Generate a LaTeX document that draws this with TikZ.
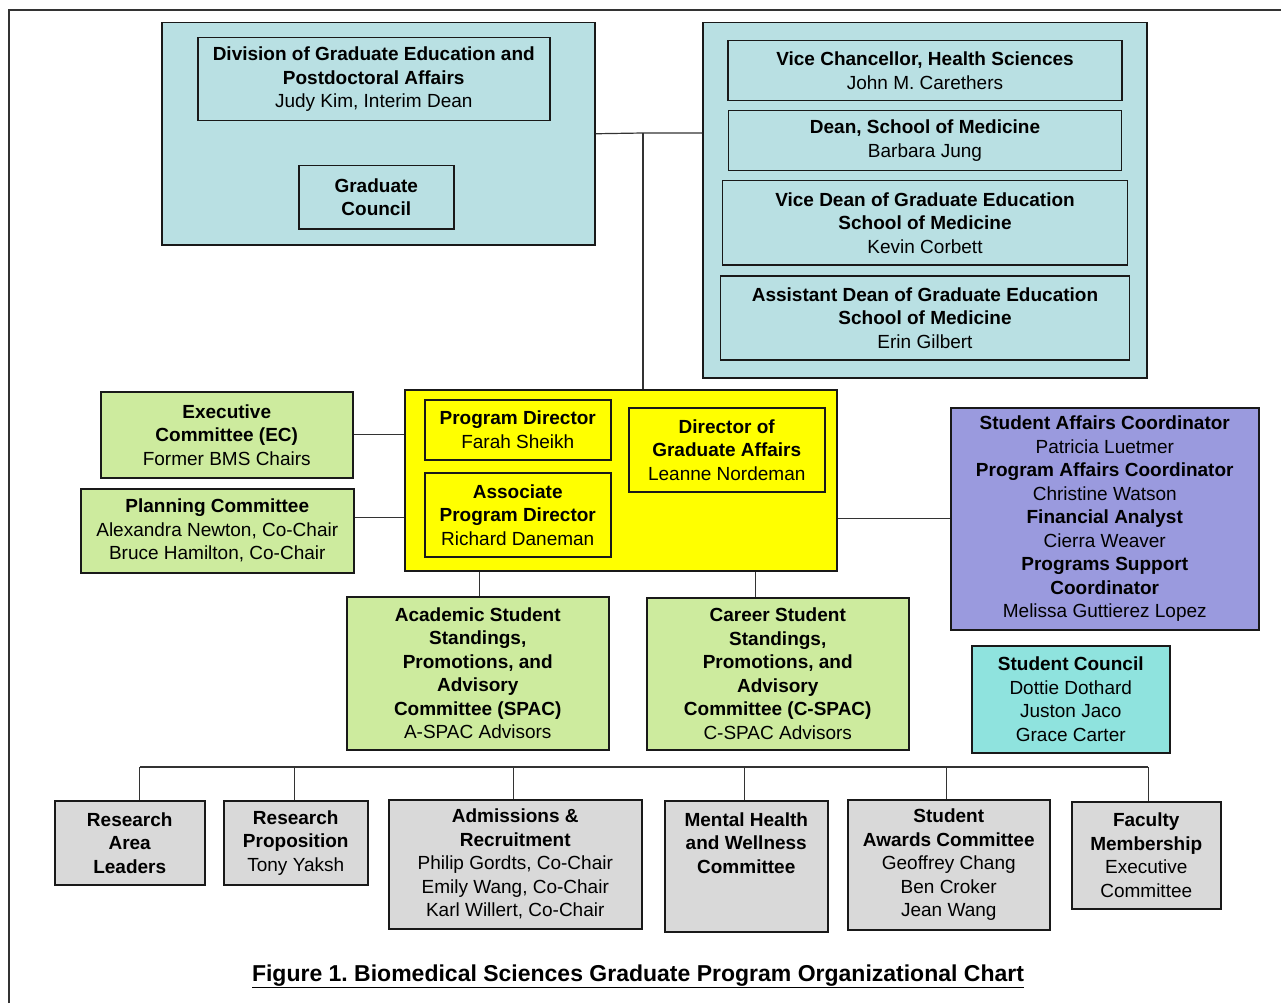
\documentclass[tikz,border=0pt]{standalone}
\usepackage{fontspec}
\setmainfont{Liberation Sans}
\usepackage{tikz}
\usetikzlibrary{positioning}
\definecolor{paleblue}{RGB}{185,224,227}
\definecolor{palegreen}{RGB}{205,235,158}
\definecolor{lavender}{RGB}{154,154,222}
\definecolor{aqua}{RGB}{143,227,222}
\definecolor{boxgray}{RGB}{217,217,217}
\definecolor{brightyellow}{RGB}{255,255,0}
\frenchspacing

\begin{document}
\begin{tikzpicture}[x=1pt,y=-1pt,
    box/.style={draw=black!90,line width=1.5pt,align=center,inner sep=2pt,
        font=\fontsize{19}{23.5}\selectfont},
    sz/.style 2 args={minimum width=#1pt,minimum height=#2pt},
    link/.style={draw=black!80,line width=1.2pt}]
            \useasboundingbox (0,0) rectangle (1281,1003);
            \draw[line width=1.3pt,black!80] (9,1003) -- (9,10) -- (1281,10);

            \node[box,fill=paleblue,anchor=north west,sz={433}{222}] (Div) at (161,22) {};
            \node[box,anchor=north west,sz={352}{83}] (DGE) at (197,37)
                {\textbf{Division of Graduate Education and}\\\textbf{Postdoctoral Affairs}\\Judy Kim, Interim Dean};
            \node[box,anchor=north west,sz={155}{63}] (GC) at (298,165) {\textbf{Graduate}\\\textbf{Council}};

            \node[box,fill=paleblue,anchor=north west,sz={444}{355}] (HS) at (702,22) {};
            \node[box,anchor=north,sz={394}{60}] (VC) at (925,40)
                {\textbf{Vice Chancellor, Health Sciences}\\John M. Carethers};
            \node[box,sz={393}{60}] (SOM) [below=8.5pt of VC] {\textbf{Dean, School of Medicine}\\Barbara Jung};
            \node[box,sz={405}{84}] (VD) [below=8.5pt of SOM]
                {\textbf{Vice Dean of Graduate Education}\\\textbf{School of Medicine}\\Kevin Corbett};
            \node[box,sz={409}{84}] (AD) [below=9.5pt of VD]
                {\textbf{Assistant Dean of Graduate Education}\\\textbf{School of Medicine}\\Erin Gilbert};

            \node[box,fill=brightyellow,anchor=north west,sz={432}{181}] (BMS) at (404,389) {};
            \node[box,anchor=north west,sz={186}{60}] (PD) at (424,399) {\textbf{Program Director}\\Farah Sheikh};
            \node[box,sz={186}{84}] (APD) [below=11.5pt of PD]
                {\textbf{Associate}\\\textbf{Program Director}\\Richard Daneman};
            \node[box,anchor=north west,sz={196}{84}] (DGA) at (628,407)
                {\textbf{Director of}\\\textbf{Graduate Affairs}\\Leanne Nordeman};

            \node[box,fill=palegreen,anchor=north west,sz={252}{86}] (EC) at (100,391)
                {\textbf{Executive}\\\textbf{Committee (EC)}\\Former BMS Chairs};
            \node[box,fill=palegreen,anchor=north west,sz={273}{84}] (PC) at (80,488)
                {\textbf{Planning Committee}\\Alexandra Newton, Co-Chair\\Bruce Hamilton, Co-Chair};

            \node[box,fill=lavender,anchor=north west,sz={308}{222}] (Staff) at (950,407)
                {\textbf{Student Affairs Coordinator}\\Patricia Luetmer\\\textbf{Program Affairs Coordinator}\\
                 Christine Watson\\\textbf{Financial Analyst}\\Cierra Weaver\\\textbf{Programs Support}\\
                 \textbf{Coordinator}\\Melissa Guttierez Lopez};
            \node[box,fill=aqua,anchor=north west,sz={198}{107}] (SC) at (971,645)
                {\textbf{Student Council}\\Dottie Dothard\\Juston Jaco\\Grace Carter};

            \node[box,fill=palegreen,anchor=north west,sz={262}{153}] (ASPAC) at (346,596)
                {\textbf{Academic Student}\\\textbf{Standings,}\\\textbf{Promotions, and}\\\textbf{Advisory}\\
                 \textbf{Committee (SPAC)}\\A-SPAC Advisors};
            \node[box,fill=palegreen,anchor=north west,sz={262}{152}] (CSPAC) at (646,597)
                {\textbf{Career Student}\\\textbf{Standings,}\\\textbf{Promotions, and}\\\textbf{Advisory}\\
                 \textbf{Committee (C-SPAC)}\\C-SPAC Advisors};

            \node[box,fill=boxgray,anchor=north west,sz={150}{84}] (RAL) at (54,800)
                {\textbf{Research}\\\textbf{Area}\\\textbf{Leaders}};
            \node[box,fill=boxgray,anchor=north west,sz={144}{84}] (RP) at (223,800)
                {\textbf{Research}\\\textbf{Proposition}\\Tony Yaksh};
            \node[box,fill=boxgray,anchor=north west,sz={253}{129}] (AR) at (388,799)
                {\textbf{Admissions \&}\\\textbf{Recruitment}\\Philip Gordts, Co-Chair\\
                 Emily Wang, Co-Chair\\Karl Willert, Co-Chair};
            \node[box,fill=boxgray,anchor=north west,sz={163}{131}] (MHW) at (664,800)
                {\textbf{Mental Health}\\\textbf{and Wellness}\\\textbf{Committee}\\~\\~};
            \node[box,fill=boxgray,anchor=north west,sz={202}{130}] (SAC) at (847,799)
                {\textbf{Student}\\\textbf{Awards Committee}\\Geoffrey Chang\\Ben Croker\\Jean Wang};
            \node[box,fill=boxgray,anchor=north west,sz={149}{107}] (FM) at (1071,801)
                {\textbf{Faculty}\\\textbf{Membership}\\Executive\\Committee};

            \node[font=\fontsize{23}{28}\selectfont\bfseries,anchor=base] (Cap) at (638,981)
                {\underline{Figure 1. Biomedical Sciences Graduate Program Organizational Chart}};

            \coordinate (J) at (643,133);
            \coordinate (bus) at (0,767);
            \draw[link] (Div.east) -- (J) -- (J -| HS.west);
            \draw[link] (J) -- (J |- BMS.north);
            \draw[link] (EC.east) -- (EC.east -| BMS.west);
            \draw[link] ([yshift=13pt]PC.east) -- ([yshift=13pt]PC.east -| BMS.west);
            \draw[link] (Staff.west) -- (Staff.west -| BMS.east);
            \draw[link] ([xshift=2pt]ASPAC.north) -- ([xshift=2pt]ASPAC.north |- BMS.south);
            \draw[link] ([xshift=-22pt]CSPAC.north) -- ([xshift=-22pt]CSPAC.north |- BMS.south);
            \draw[link] ([xshift=10pt]RAL.north |- bus) -- ([xshift=2pt]FM.north |- bus);
            \foreach \n/\dx in {RAL/10,RP/-1,AR/-2,MHW/-2,SAC/-2,FM/2}
                \draw[link] ([xshift=\dx pt]\n.north) -- ([xshift=\dx pt]\n.north |- bus);
        \end{tikzpicture}
\end{document}
